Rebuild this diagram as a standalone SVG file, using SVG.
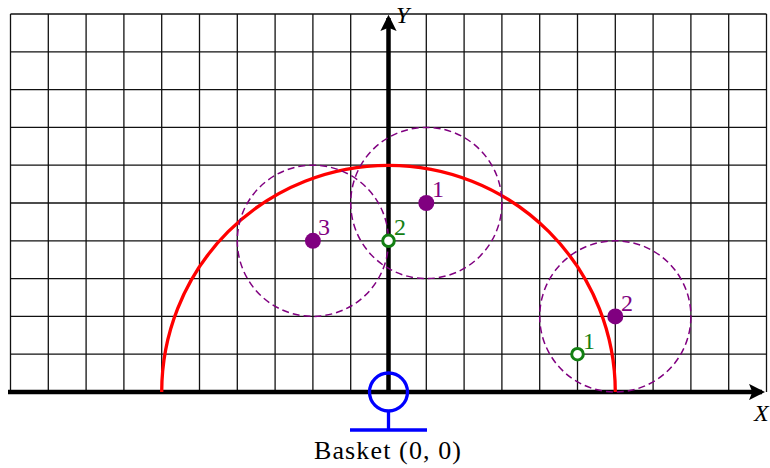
<svg xmlns="http://www.w3.org/2000/svg" width="770" height="468" viewBox="0 0 770 468">
<style>
.grid line{stroke:#111;stroke-width:1.3}
.axis{stroke:#000;stroke-width:4.5;fill:none}
.zone{fill:none;stroke:#800080;stroke-width:1.5;stroke-dasharray:7 4}
.shot{fill:#800080}
.miss{fill:#fff;stroke:#138013;stroke-width:3}
text{font-family:'Liberation Serif','DejaVu Serif','Times New Roman',serif;font-size:24px}
.lp{fill:#800080}
.lg{fill:#138013}
.lab{fill:#000}
.it{font-style:italic}
.cap{font-size:26px}
</style>
<defs>
<marker id="ah" viewBox="0 0 10 10" refX="8" refY="5" markerWidth="3.6" markerHeight="3.6" orient="auto" markerUnits="strokeWidth">
<path d="M0,0 L10,5 L0,10 L2,5 Z" fill="#000"/>
</marker>
</defs>
<rect width="770" height="468" fill="#fff"/>
<g id="grid" class="grid">
<line x1="10.5" y1="14" x2="10.5" y2="392"/>
<line x1="48.3" y1="14" x2="48.3" y2="392"/>
<line x1="86.1" y1="14" x2="86.1" y2="392"/>
<line x1="123.9" y1="14" x2="123.9" y2="392"/>
<line x1="161.7" y1="14" x2="161.7" y2="392"/>
<line x1="199.5" y1="14" x2="199.5" y2="392"/>
<line x1="237.3" y1="14" x2="237.3" y2="392"/>
<line x1="275.1" y1="14" x2="275.1" y2="392"/>
<line x1="312.9" y1="14" x2="312.9" y2="392"/>
<line x1="350.7" y1="14" x2="350.7" y2="392"/>
<line x1="426.3" y1="14" x2="426.3" y2="392"/>
<line x1="464.1" y1="14" x2="464.1" y2="392"/>
<line x1="501.9" y1="14" x2="501.9" y2="392"/>
<line x1="539.7" y1="14" x2="539.7" y2="392"/>
<line x1="577.5" y1="14" x2="577.5" y2="392"/>
<line x1="615.3" y1="14" x2="615.3" y2="392"/>
<line x1="653.1" y1="14" x2="653.1" y2="392"/>
<line x1="690.9" y1="14" x2="690.9" y2="392"/>
<line x1="728.7" y1="14" x2="728.7" y2="392"/>
<line x1="766.5" y1="14" x2="766.5" y2="392"/>
<line x1="10.5" y1="14" x2="766.5" y2="14"/>
<line x1="10.5" y1="51.8" x2="766.5" y2="51.8"/>
<line x1="10.5" y1="89.6" x2="766.5" y2="89.6"/>
<line x1="10.5" y1="127.4" x2="766.5" y2="127.4"/>
<line x1="10.5" y1="165.2" x2="766.5" y2="165.2"/>
<line x1="10.5" y1="203" x2="766.5" y2="203"/>
<line x1="10.5" y1="240.8" x2="766.5" y2="240.8"/>
<line x1="10.5" y1="278.6" x2="766.5" y2="278.6"/>
<line x1="10.5" y1="316.4" x2="766.5" y2="316.4"/>
<line x1="10.5" y1="354.2" x2="766.5" y2="354.2"/>
</g>
<g id="axes">
<line class="axis" x1="8" y1="392" x2="762" y2="392" marker-end="url(#ah)"/>
<line class="axis" x1="388.5" y1="392" x2="388.5" y2="18" marker-end="url(#ah)"/>
<text class="lab it" x="396" y="23">Y</text>
<text class="lab it" x="754" y="421">X</text>
</g>
<g id="range">
<path d="M161.7,392 A226.8,226.8 0 0 1 615.3,392" fill="none" stroke="#ff0000" stroke-width="3.3"/>
</g>
<g id="zones">
<circle class="zone" cx="426.3" cy="203" r="75.6"/>
<circle class="zone" cx="312.9" cy="240.8" r="75.6"/>
<circle class="zone" cx="615.3" cy="316.4" r="75.6"/>
</g>
<g id="shot1"><circle class="shot" cx="426.3" cy="203" r="8"/><text class="lp" x="432" y="197">1</text></g>
<g id="shot2"><circle class="shot" cx="615.3" cy="316.4" r="8"/><text class="lp" x="621" y="311">2</text></g>
<g id="shot3"><circle class="shot" cx="312.9" cy="240.8" r="8"/><text class="lp" x="318" y="235">3</text></g>
<g id="miss1"><circle class="miss" cx="577.5" cy="354.2" r="5.8"/><text class="lg" x="583" y="349">1</text></g>
<g id="miss2"><circle class="miss" cx="388.5" cy="240.8" r="5.8"/><text class="lg" x="394" y="235">2</text></g>
<g id="basket">
<circle cx="388.5" cy="392" r="19" fill="none" stroke="#0000ff" stroke-width="3.3"/>
<line x1="388.5" y1="411" x2="388.5" y2="430" stroke="#0000ff" stroke-width="3.3"/>
<line x1="350" y1="430" x2="427" y2="430" stroke="#0000ff" stroke-width="3.3"/>
<text class="lab cap" x="314" y="459" textLength="147" lengthAdjust="spacing">Basket (0, 0)</text>
</g>
</svg>
